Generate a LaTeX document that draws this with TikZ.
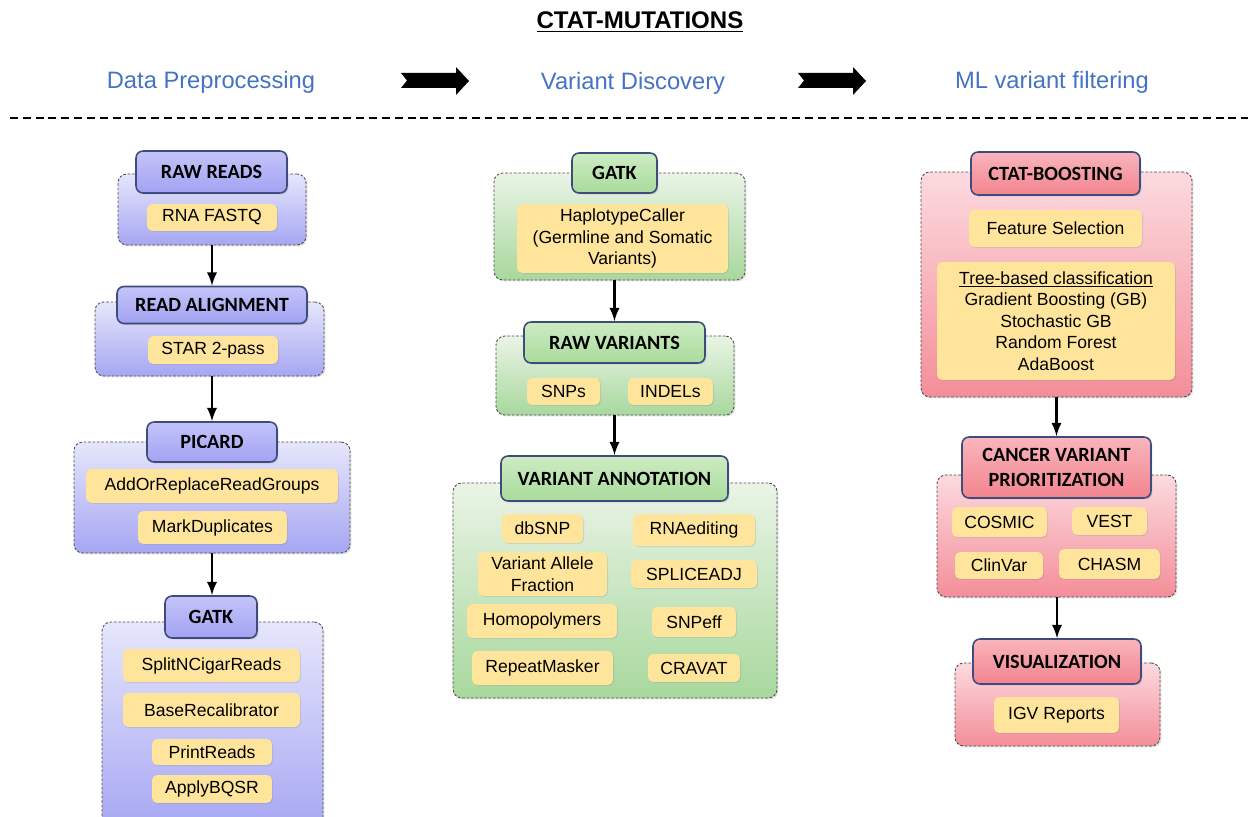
\documentclass[tikz,border=0pt]{standalone}
\usepackage{fontspec}
\setmainfont{Liberation Sans}
\newfontfamily\hdrfont{Carlito}
\usetikzlibrary{shadows,positioning}

\definecolor{phaseblue}{HTML}{4472C4}
\definecolor{hdrline}{HTML}{3E4C7C}
\definecolor{itemyellow}{HTML}{FFE59B}
\definecolor{blueTop}{HTML}{E6E6FC}
\definecolor{blueBot}{HTML}{A6A6F3}
\definecolor{blueHdrTop}{HTML}{C4C4FA}
\definecolor{blueHdr}{HTML}{A2A2F2}
\definecolor{greenTop}{HTML}{EAF4E6}
\definecolor{greenBot}{HTML}{A8D89D}
\definecolor{greenHdrTop}{HTML}{CDECC3}
\definecolor{greenHdr}{HTML}{A9DB9C}
\definecolor{redTop}{HTML}{FCDADF}
\definecolor{redBot}{HTML}{F48E99}
\definecolor{redHdrTop}{HTML}{F9B5BC}
\definecolor{redHdr}{HTML}{F2848F}

\tikzset{
	grp/.style={draw=gray!60!black, dash pattern=on 1.5pt off 1pt, line width=0.5pt, rounded corners=5pt,
		drop shadow={opacity=0.25,shadow xshift=0.8pt,shadow yshift=-0.8pt}},
	hdr/.style={draw=hdrline, line width=0.9pt, rounded corners=4pt, align=center, inner sep=2pt,
		font=\hdrfont\bfseries\fontsize{11.5}{14}\selectfont,
		drop shadow={opacity=0.3,shadow xshift=0.8pt,shadow yshift=-0.8pt}},
	item/.style={fill=itemyellow, rounded corners=3pt, align=center, inner sep=1pt,
		font=\fontsize{10}{12.3}\selectfont,
		drop shadow={opacity=0.2,shadow xshift=0.6pt,shadow yshift=-0.6pt}},
	grpblue/.style={grp, top color=blueTop, bottom color=blueBot},
	grpgreen/.style={grp, top color=greenTop, bottom color=greenBot},
	grpred/.style={grp, top color=redTop, bottom color=redBot},
	hdrblue/.style={hdr, top color=blueHdrTop, bottom color=blueHdr},
	hdrgreen/.style={hdr, top color=greenHdrTop, bottom color=greenHdr},
	hdrred/.style={hdr, top color=redHdrTop, bottom color=redHdr},
	phase/.style={text=phaseblue, font=\fontsize{13.5}{16}\selectfont},
	flow/.style={-latex, line width=1.6pt},
}

\begin{document}
\begin{tikzpicture}[x=0.02cm,y=-0.02cm]
		\useasboundingbox (0,0) rectangle (1248,817);
		% title and phases
		\node[font=\bfseries\fontsize{13.7}{16}\selectfont] (title) at (640,22) {\underline{CTAT-MUTATIONS}};
		\node[phase] (pre) at (211,82) {Data Preprocessing};
		\node[phase] (disc) at (633,83) {Variant Discovery};
		\node[phase] (ml) at (1052,82) {ML variant filtering};
		\fill (401,73) -- (456,73) -- (456,67) -- (469,81) -- (456,95) -- (456,88) -- (401,88) -- (407,80.5) -- cycle;
		\fill (798,73) -- (853,73) -- (853,67) -- (866,81) -- (853,95) -- (853,88) -- (798,88) -- (804,80.5) -- cycle;
		\draw[line width=1.6pt, dash pattern=on 4.5pt off 2.8pt] (10,118) -- (1248,118);

		% data preprocessing
		\node[grpblue, minimum width=3.76cm, minimum height=1.42cm] (rawg) at (212,209.5) {};
		\node[hdrblue, minimum width=3.02cm, minimum height=0.84cm] (raw) at (211.5,172) {RAW READS};
		\node[item, minimum width=2.6cm, minimum height=0.54cm] (fastq) at (212,217.5) {RNA FASTQ};

		\node[grpblue, minimum width=4.58cm, minimum height=1.48cm] (alng) at (209.5,339) {};
		\node[hdrblue, minimum width=3.8cm, minimum height=0.74cm] (aln) at (212,305) {READ ALIGNMENT};
		\node[item, minimum width=2.6cm, minimum height=0.56cm] (star) at (213,350) {STAR 2-pass};

		\node[grpblue, minimum width=5.52cm, minimum height=2.22cm] (picg) at (212,497.5) {};
		\node[hdrblue, minimum width=2.6cm, minimum height=0.8cm] (pic) at (212,442) {PICARD};
		\node[item, minimum width=5.04cm, minimum height=0.68cm] (addrg) at (212,486) {AddOrReplaceReadGroups};
		\node[item, minimum width=2.98cm, minimum height=0.66cm] (mdup) at (212.5,527.5) {MarkDuplicates};

		\node[grpblue, minimum width=4.42cm, minimum height=4.2cm] (gatkpg) at (212.5,727) {};
		\node[hdrblue, minimum width=1.84cm, minimum height=0.84cm] (gatkp) at (211,617) {GATK};
		\node[item, minimum width=3.54cm, minimum height=0.66cm] (split) at (211.5,665.5) {SplitNCigarReads};
		\node[item, minimum width=3.54cm, minimum height=0.68cm] (bqsr) at (211.5,710) {BaseRecalibrator};
		\node[item, minimum width=2.4cm, minimum height=0.52cm] (print) at (212,752) {PrintReads};
		\node[item, minimum width=2.4cm, minimum height=0.56cm] (apply) at (212,789) {ApplyBQSR};

		\draw[flow] (rawg.south) -- (aln.north);
		\draw[flow] (alng.south -| pic.north) -- (pic.north);
		\draw[flow] (picg.south) -- (gatkp.north -| picg.south);

		% variant discovery
		\node[grpgreen, minimum width=5.02cm, minimum height=2.14cm] (hapg) at (619.5,226.5) {};
		\node[hdrgreen, minimum width=1.7cm, minimum height=0.8cm] (gatkv) at (614.5,173) {GATK};
		\node[item, minimum width=4.22cm, minimum height=1.38cm] (hap) at (622.5,238.5) {HaplotypeCaller\\(Germline and Somatic\\Variants)};

		\node[grpgreen, minimum width=4.76cm, minimum height=1.58cm] (varsg) at (615,375.5) {};
		\node[hdrgreen, minimum width=3.62cm, minimum height=0.82cm] (vars) at (614.5,342.5) {RAW VARIANTS};
		\node[item, minimum width=1.46cm, minimum height=0.54cm] (snps) at (563.5,391.5) {SNPs};
		\node[item, minimum width=1.7cm, minimum height=0.54cm] (indels) at (670.5,391.5) {INDELs};

		\node[grpgreen, minimum width=6.48cm, minimum height=4.3cm] (annog) at (615,590.5) {};
		\node[hdrgreen, minimum width=4.54cm, minimum height=0.9cm] (anno) at (614.5,478.5) {VARIANT ANNOTATION};
		\node[item, minimum width=1.62cm, minimum height=0.58cm] (dbsnp) at (542.5,528.5) {dbSNP};
		\node[item, minimum width=2.44cm, minimum height=0.64cm] (rnaed) at (694,530) {RNAediting};
		\node[item, minimum width=2.58cm, minimum height=0.88cm] (vaf) at (542.5,574) {Variant Allele\\Fraction};
		\node[item, minimum width=2.52cm, minimum height=0.56cm] (splice) at (694,574) {SPLICEADJ};
		\node[item, minimum width=3cm, minimum height=0.68cm] (homo) at (542,621) {Homopolymers};
		\node[item, minimum width=1.68cm, minimum height=0.6cm] (snpeff) at (694,622) {SNPeff};
		\node[item, minimum width=2.82cm, minimum height=0.68cm] (rmask) at (542.5,668) {RepeatMasker};
		\node[item, minimum width=1.84cm, minimum height=0.56cm] (cravat) at (694,668) {CRAVAT};

		\draw[flow] (vars.north |- hapg.south) -- (vars.north);
		\draw[flow] (varsg.south -| anno.north) -- (anno.north);

		% ML variant filtering
		\node[grpred, minimum width=5.42cm, minimum height=4.5cm] (boostg) at (1056.5,284.5) {};
		\node[hdrred, minimum width=3.38cm, minimum height=0.86cm] (boost) at (1055.5,173.5) {CTAT-BOOSTING};
		\node[item, minimum width=3.46cm, minimum height=0.74cm] (feat) at (1055.5,228.5) {Feature Selection};
		\node[item, minimum width=4.76cm, minimum height=2.36cm] (tree) at (1056,321) {\underline{Tree-based classification}\\Gradient Boosting (GB)\\Stochastic GB\\Random Forest\\AdaBoost};

		\node[grpred, minimum width=4.78cm, minimum height=2.44cm] (prig) at (1056.5,536) {};
		\node[hdrred, minimum width=3.78cm, minimum height=1.22cm] (pri) at (1056.5,467.5) {CANCER VARIANT\\PRIORITIZATION};
		\node[item, minimum width=1.9cm, minimum height=0.6cm] (cosmic) at (999.5,522) {COSMIC};
		\node[item, minimum width=1.5cm, minimum height=0.56cm] (vest) at (1109.5,521) {VEST};
		\node[item, minimum width=1.76cm, minimum height=0.54cm] (clinvar) at (999,565.5) {ClinVar};
		\node[item, minimum width=2.02cm, minimum height=0.6cm] (chasm) at (1109.5,564) {CHASM};

		\node[grpred, minimum width=4.1cm, minimum height=1.66cm] (visg) at (1057.5,704.5) {};
		\node[hdrred, minimum width=3.36cm, minimum height=0.9cm] (vis) at (1057,661.5) {VISUALIZATION};
		\node[item, minimum width=2.5cm, minimum height=0.72cm] (igv) at (1056.5,715) {IGV Reports};

		\draw[flow] (pri.north |- boostg.south) -- (pri.north);
		\draw[flow] (vis.north |- prig.south) -- (vis.north);
	\end{tikzpicture}
\end{document}
